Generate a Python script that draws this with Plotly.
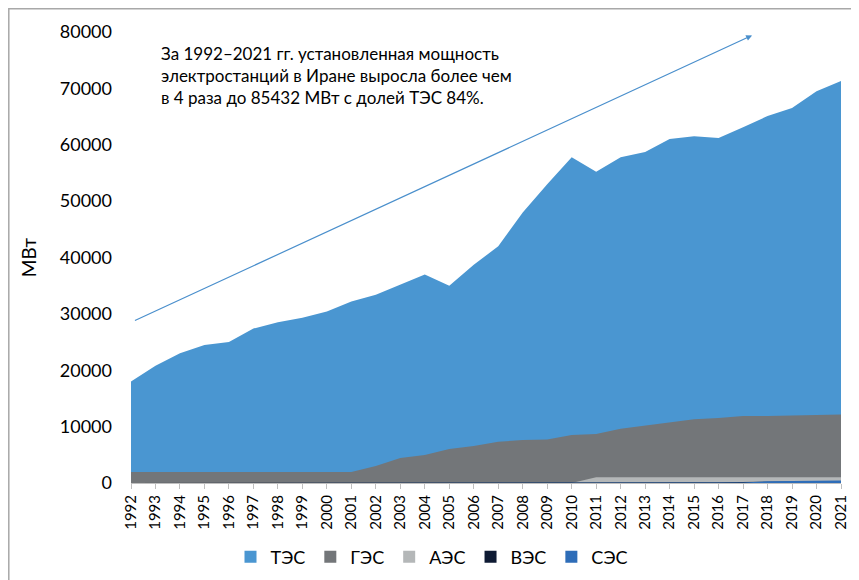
import plotly.graph_objects as go

years = list(range(1992, 2022))
tes = [18000, 20800, 23000, 24500, 25000, 27400, 28500, 29300, 30400, 32200,
       33400, 35200, 37000, 35000, 38700, 42000, 48000, 53000, 57800, 55200,
       57800, 58700, 61000, 61500, 61200, 63100, 65100, 66500, 69500, 71300]
ges = [1950, 1950, 1950, 1950, 1950, 1950, 1950, 1950, 1950, 1950,
       3000, 4430, 4970, 6030, 6560, 7300, 7630, 7700, 8510, 8690,
       9630, 10170, 10700, 11290, 11530, 11880, 11900, 12000, 12120, 12130]
aes = [0] * 18 + [0, 1020, 1020, 1020, 1020, 1020, 1020, 1020, 1020, 1020, 1020, 1020]
ves = [10, 10, 10, 10, 10, 10, 10, 10, 10, 10,
       10, 20, 25, 45, 50, 70, 90, 90, 92, 92,
       100, 100, 110, 120, 150, 190, 270, 300, 300, 305]
ses = [0] * 24 + [30, 100, 290, 380, 420, 450]

names = ["ТЭС", "ГЭС", "АЭС", "ВЭС", "СЭС"]
series = [tes, ges, aes, ves, ses]
colors = ["#4A96D1", "#737679", "#B4B7B8", "#0E1A33", "#2E6DB8"]
yticks = list(range(0, 80001, 10000))

FONT = "Lato"
fig = go.Figure()
for n, s, c in zip(names, series, colors):
    fig.add_trace(go.Scatter(x=years, y=s, name=n, mode="lines",
                             fill="tozeroy", fillcolor=c, showlegend=False,
                             line=dict(color=c, width=0)))
# legend entries with square swatches
for n, c in zip(names, colors):
    fig.add_trace(go.Scatter(x=[None], y=[None], name=n, mode="markers",
                             marker=dict(symbol="square", size=12, color=c)))

OFF = 8  # page body margin
W, H = 859 - OFF, 580 - OFF
L, R, T, B = 131 - OFF, 18, 32 - OFF, 97
pw, ph = W - L - R, H - T - B

def px_x(p):
    return (p - OFF - L) / pw

def px_y(p):
    return (H - B - (p - OFF)) / ph

# outer chart frame (only left/top edges fall inside the window)
fig.add_shape(type="rect", xref="paper", yref="paper",
              x0=px_x(8.8), x1=px_x(900), y0=px_y(620), y1=px_y(8.8),
              line=dict(color="#A8A8A8", width=1.5), fillcolor="rgba(0,0,0,0)", layer="below")

fig.add_annotation(xref="paper", yref="paper", x=px_x(159), y=px_y(41),
                   xanchor="left", yanchor="top", align="left", showarrow=False,
                   text="За 1992–2021 гг. установленная мощность<br>электростанций в Иране выросла более чем<br>в 4 раза до 85432 МВт с долей ТЭС 84%.",
                   font=dict(family=FONT, size=17, color="#000000"))

fig.add_annotation(x=2017.37, y=79400, ax=1992.1, ay=28700, xref="x", yref="y",
                   axref="x", ayref="y", text="", showarrow=True,
                   arrowhead=2, arrowsize=1, arrowwidth=1.2, arrowcolor="#4A8FCC")

fig.update_layout(
    width=W, height=H, margin=dict(l=L, r=R, t=T, b=B, autoexpand=False),
    paper_bgcolor="white", plot_bgcolor="white",
    font=dict(family=FONT, color="#000000"),
    showlegend=True,
    legend=dict(orientation="h", x=px_x(432), xanchor="center", y=px_y(557), yanchor="middle",
                font=dict(family=FONT, size=18), traceorder="normal", itemwidth=30),
    xaxis=dict(range=[1992, 2021], tickmode="array", tickvals=years,
               ticktext=[str(y) for y in years], tickangle=-90,
               tickfont=dict(family=FONT, size=15), showgrid=False, zeroline=False,
               showline=True, linecolor="#BFBFBF", linewidth=1,
               ticks="outside", ticklen=5, tickcolor="#BFBFBF", automargin=False),
    yaxis=dict(range=[0, 80000], tickmode="array", tickvals=yticks,
               ticktext=[str(v) for v in yticks],
               tickfont=dict(family=FONT, size=18), showgrid=False, zeroline=False,
               showline=False, ticks="", ticklabelstandoff=18, automargin=False,
               title=dict(text="МВт", font=dict(family=FONT, size=19), standoff=18)),
)

fig.write_html("out.html")
